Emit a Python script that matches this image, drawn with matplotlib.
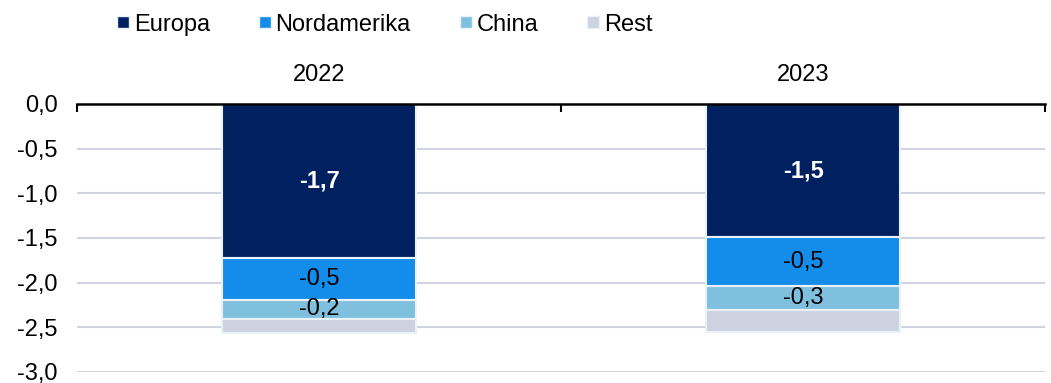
import numpy as np
import matplotlib.pyplot as plt
from matplotlib.lines import Line2D

plt.rcParams["font.family"] = ["Liberation Sans", "DejaVu Sans"]

# =====================================================
# DATA
# =====================================================
years = ["2022", "2023"]
series = ["Europa", "Nordamerika", "China", "Rest"]
europa = [-1.72, -1.49]
nordamerika = [-0.47, -0.55]
china = [-0.22, -0.27]
rest = [-0.15, -0.24]
labels_europa = ["-1,7", "-1,5"]
labels_nordamerika = ["-0,5", "-0,5"]
labels_china = ["-0,2", "-0,3"]
yticks = [0.0, -0.5, -1.0, -1.5, -2.0, -2.5, -3.0]

colors = ["#002060", "#138de9", "#80c0df", "#ccd2df"]
FS = 17

# =====================================================
# PLOT
# =====================================================
fig = plt.figure(figsize=(10.51, 3.83), dpi=100)
ax = fig.add_axes([77 / 1051, 1 - 372 / 383, 968 / 1051, 268 / 383])

x = np.arange(len(years))
values = [europa, nordamerika, china, rest]
bottom = np.zeros(len(years))
for vals, col in zip(values, colors):
    vals = np.array(vals)
    ax.bar(x, vals, width=0.4, bottom=bottom, color=col,
           edgecolor="#eaf2f8", linewidth=1.5, zorder=3)
    bottom = bottom + vals

# data labels
bottom = np.zeros(len(years))
for vals, labs, tc, fw in [(europa, labels_europa, "white", "bold"),
                           (nordamerika, labels_nordamerika, "black", "normal"),
                           (china, labels_china, "black", "normal")]:
    for i in range(len(years)):
        ax.text(x[i], bottom[i] + vals[i] / 2, labs[i], ha="center", va="center",
                fontsize=FS, color=tc, fontweight=fw, zorder=4)
    bottom = bottom + np.array(vals)

ax.set_xlim(-0.5, len(years) - 0.5)
ax.set_ylim(-3.0, 0.0)
ax.set_yticks(yticks)
ax.set_yticklabels([f"{v:.1f}".replace(".", ",") for v in yticks], fontsize=FS)
ax.tick_params(axis="y", length=0, pad=14)

ax.xaxis.tick_top()
ax.set_xticks(x)
ax.set_xticklabels(years, fontsize=FS)
ax.tick_params(axis="x", which="major", length=0, pad=13)
ax.set_xticks([-0.5, 0.5, 1.5], minor=True)
ax.tick_params(axis="x", which="minor", direction="in", length=6, width=1.5, color="black")

ax.grid(axis="y", color="#d0d4e0", linewidth=1.5, zorder=0)
for s in ["left", "right", "bottom"]:
    ax.spines[s].set_visible(False)
ax.spines["top"].set_linewidth(1.8)
ax.spines["top"].set_zorder(5)

handles = [Line2D([], [], marker="s", linestyle="none", markersize=8,
                  markerfacecolor=c, markeredgecolor="#eaf2f8") for c in colors]
fig.legend(handles, series, loc="upper left", bbox_to_anchor=(0.089, 1.02),
           ncol=4, frameon=False, fontsize=FS, handletextpad=0.1,
           columnspacing=1.98, handlelength=0.7)

plt.savefig("out.png", dpi=100)
plt.close()
